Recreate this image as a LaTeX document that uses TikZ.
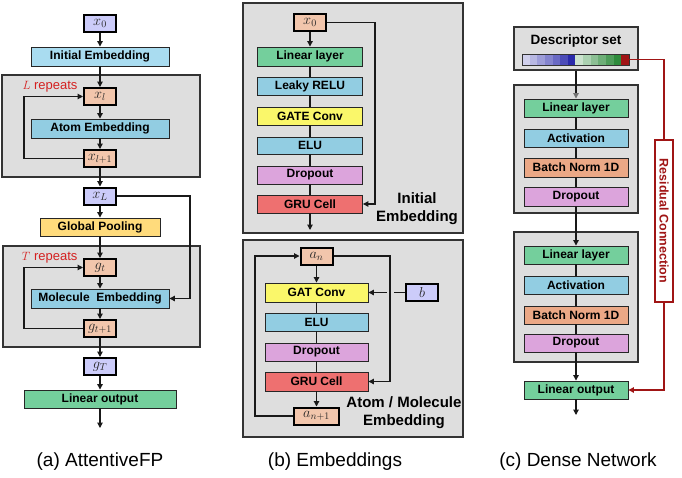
\documentclass[tikz,border=0pt]{standalone}
\usepackage{fontspec}
\setsansfont{Liberation Sans}
\usetikzlibrary{arrows.meta,calc}
\definecolor{panelgray}{HTML}{DEDEDE}
\definecolor{varblue}{HTML}{CCCCFA}
\definecolor{varsalmon}{HTML}{F2C6AC}
\definecolor{initblue}{HTML}{A9DCF0}
\definecolor{midblue}{HTML}{92CDE2}
\definecolor{lingreen}{HTML}{74CF9C}
\definecolor{poolyellow}{HTML}{FFDB7C}
\definecolor{convyellow}{HTML}{FAF76A}
\definecolor{droppink}{HTML}{DCA4DC}
\definecolor{grured}{HTML}{EE7070}
\definecolor{bnorange}{HTML}{EBA886}
\definecolor{repred}{HTML}{D42020}
\definecolor{resred}{HTML}{A01515}
\definecolor{descblue}{HTML}{2A2AAA}
\definecolor{descgreen}{HTML}{2E8B3C}
\tikzset{
  lbl/.style={font=\sffamily\bfseries\fontsize{12}{14}\selectfont,text=black},
  blk/.style={draw=black!85,line width=0.9pt,inner sep=0pt,lbl},
  var/.style={draw=black,line width=2pt,inner sep=0pt,minimum width=32pt,minimum height=17pt,font=\fontsize{14}{16}\selectfont,text=black!85},
  panel/.style={draw=black!80,fill=panelgray,line width=1.2pt,inner sep=0pt},
  arr/.style={-{Triangle[length=5.5pt,width=5.5pt]},line width=1.1pt,draw=black!90},
  con/.style={line width=1.1pt,draw=black!90},
  resarr/.style={-{Triangle[length=5.5pt,width=5.5pt]},line width=1.1pt,draw=resred},
  resbox/.style={draw=resred,fill=white,line width=1.1pt,rotate=-90,minimum width=162pt,minimum height=18pt,inner sep=0pt,font=\sffamily\bfseries\fontsize{12.5}{14}\selectfont,text=resred},
  rep/.style={font=\sffamily\fontsize{13}{15}\selectfont,text=repred,anchor=east},
  side/.style={font=\sffamily\bfseries\fontsize{15}{18}\selectfont,align=center,text=black},
  caplbl/.style={font=\sffamily\fontsize{19}{22}\selectfont,text=black}
}
\begin{document}
\begin{tikzpicture}[x=1pt,y=-1pt]
\path[use as bounding box] (0,0) rectangle (682,477);
\node[panel,minimum width=198pt,minimum height=102pt] (a_rep1) at (101,126) {};
\node[panel,minimum width=197pt,minimum height=101pt] (a_rep2) at (101.5,296.5) {};
\node[var,fill=varblue] (a_x0) at (100,23) {$x_0$};
\node[blk,fill=initblue,minimum width=138pt,minimum height=19pt] (a_init) at (100,56.5) {Initial Embedding};
\node[rep] (a_lrep) at (81,87) {$L$ repeats};
\node[var,fill=varsalmon] (a_xl) at (100,96.5) {$x_l$};
\node[blk,fill=midblue,minimum width=138pt,minimum height=19pt] (a_atom) at (100,128.5) {Atom Embedding};
\node[var,fill=varsalmon] (a_xl1) at (100,158.5) {$x_{l+1}$};
\node[var,fill=varblue] (a_xL) at (100,196) {$x_L$};
\node[blk,fill=poolyellow,minimum width=120pt,minimum height=18pt] (a_pool) at (100,227) {Global Pooling};
\node[rep] (a_trep) at (81,258) {$T$ repeats};
\node[var,fill=varsalmon] (a_gt) at (100,267.5) {$g_t$};
\node[blk,fill=midblue,minimum width=138pt,minimum height=19pt] (a_mol) at (100,298.5) {Molecule~~Embedding};
\node[var,fill=varsalmon] (a_gt1) at (100,328.5) {$g_{t+1}$};
\node[var,fill=varblue] (a_gT) at (100,366.5) {$g_T$};
\node[blk,fill=lingreen,minimum width=152pt,minimum height=18pt] (a_lin) at (100,399) {Linear output};
\coordinate (a_end) at (100,428);
\coordinate (a_loop) at (24,0);
\coordinate (a_side) at (190,0);
\draw[arr] (a_x0) -- (a_init);
\draw[arr] (a_init) -- (a_xl);
\draw[arr] (a_xl) -- (a_atom);
\draw[arr] (a_atom) -- (a_xl1);
\draw[arr] (a_xl1.west) -- (a_xl1.west -| a_loop) |- (a_xl.west);
\draw[arr] (a_xl1) -- (a_xL);
\draw[arr] (a_xL) -- (a_pool);
\draw[arr] (a_xL.east) -- (a_xL.east -| a_side) |- (a_mol.east);
\draw[arr] (a_pool) -- (a_gt);
\draw[arr] (a_gt) -- (a_mol);
\draw[arr] (a_mol) -- (a_gt1);
\draw[arr] (a_gt1.west) -- (a_gt1.west -| a_loop) |- (a_gt.west);
\draw[arr] (a_gt1) -- (a_gT);
\draw[arr] (a_gT) -- (a_lin);
\draw[arr] (a_lin) -- (a_end);
\node[panel,minimum width=220pt,minimum height=230pt] (b_init) at (353,118) {};
\node[panel,minimum width=220pt,minimum height=197pt] (b_emb) at (353,338.5) {};
\node[var,fill=varsalmon] (b_x0) at (310,22.5) {$x_0$};
\node[blk,fill=lingreen,minimum width=105pt,minimum height=19pt] (b_lin) at (310,56.5) {Linear layer};
\node[blk,fill=midblue,minimum width=105pt,minimum height=18pt] (b_relu) at (310,86) {Leaky RELU};
\node[blk,fill=convyellow,minimum width=105pt,minimum height=18pt] (b_gate) at (310,116) {GATE Conv};
\node[blk,fill=midblue,minimum width=105pt,minimum height=17pt] (b_elu) at (310,145.5) {ELU};
\node[blk,fill=droppink,minimum width=105pt,minimum height=18pt] (b_drop) at (310,175) {Dropout};
\node[blk,fill=grured,minimum width=105pt,minimum height=18pt] (b_gru) at (310,204) {GRU Cell};
\node[side] (b_initlbl) at (417,209) {Initial\\Embedding};
\coordinate (b_out) at (310,230);
\coordinate (b_skip) at (375,0);
\draw[arr] (b_x0) -- (b_lin);
\draw[con] (b_lin) -- (b_relu) (b_relu) -- (b_gate) (b_gate) -- (b_elu) (b_elu) -- (b_drop) (b_drop) -- (b_gru);
\draw[arr] (b_x0.east) -- (b_x0.east -| b_skip) |- (b_gru.east);
\draw[arr] (b_gru) -- (b_out);
\node[var,fill=varsalmon] (b_an) at (316.5,256) {$a_n$};
\node[blk,fill=convyellow,minimum width=103pt,minimum height=19pt] (b_gat) at (316.5,292.5) {GAT Conv};
\node[blk,fill=midblue,minimum width=103pt,minimum height=18pt] (b_elu2) at (316.5,322) {ELU};
\node[blk,fill=droppink,minimum width=103pt,minimum height=18pt] (b_drop2) at (316.5,352) {Dropout};
\node[blk,fill=grured,minimum width=103pt,minimum height=19pt] (b_gru2) at (316.5,381.5) {GRU Cell};
\node[var,fill=varsalmon,minimum width=45pt] (b_an1) at (316.5,416) {$a_{n+1}$};
\node[var,fill=varblue] (b_b) at (422,292.5) {$b$};
\node[side] (b_emblbl) at (404,413) {Atom / Molecule\\Embedding};
\coordinate (b_loopl) at (255,0);
\coordinate (b_loopr) at (390,0);
\draw[arr] (b_an) -- (b_gat);
\draw[con] (b_gat) -- (b_elu2) (b_elu2) -- (b_drop2) (b_drop2) -- (b_gru2);
\draw[arr] (b_gru2) -- (b_an1);
\draw[arr] (b_an1.west) -- (b_an1.west -| b_loopl) |- (b_an.west);
\draw[arr] (b_an.east) -- (b_an.east -| b_loopr) |- (b_gru2.east);
\draw[con] (b_b.west) -- ($(b_b.west -| b_loopr)+(3.5,0)$);
\draw[arr] ($(b_b.west -| b_loopr)+(-3.5,0)$) -- (b_gat.east);
\node[panel,minimum width=124pt,minimum height=43pt] (c_desc) at (576,48.5) {};
\node[lbl,font=\sffamily\bfseries\fontsize{13.5}{15}\selectfont] (c_desclbl) at (576,41) {Descriptor set};
\foreach \p [count=\i from 0] in {22,34,46,58,70,84,100}
  \fill[descblue!\p!white] (522+7.64*\i,54) rectangle ++(7.64,11);
\foreach \p [count=\i from 7] in {25,40,55,70,85,100}
  \fill[descgreen!\p!white] (522+7.64*\i,54) rectangle ++(7.64,11);
\node[fill=resred,minimum width=7.64pt,minimum height=11pt,inner sep=0pt] (c_rescell) at (625.2,59.5) {};
\node[draw=black!80,line width=0.9pt,minimum width=107pt,minimum height=11pt,inner sep=0pt] (c_bar) at (575.5,59.5) {};
\node[panel,minimum width=124pt,minimum height=128pt] (c_dense1) at (576,149) {};
\node[panel,minimum width=124pt,minimum height=130pt] (c_dense2) at (576,297) {};
\node[blk,fill=lingreen,minimum width=104pt,minimum height=18pt] (c_lin1) at (576,108) {Linear layer};
\node[blk,fill=midblue,minimum width=104pt,minimum height=18pt] (c_act1) at (576,138) {Activation};
\node[blk,fill=bnorange,minimum width=104pt,minimum height=19pt] (c_bn1) at (576,167.5) {Batch Norm 1D};
\node[blk,fill=droppink,minimum width=104pt,minimum height=19pt] (c_drop1) at (576,196.5) {Dropout};
\node[blk,fill=lingreen,minimum width=104pt,minimum height=18pt] (c_lin2) at (576,255) {Linear layer};
\node[blk,fill=midblue,minimum width=104pt,minimum height=18pt] (c_act2) at (576,285) {Activation};
\node[blk,fill=bnorange,minimum width=104pt,minimum height=18pt] (c_bn2) at (576,315) {Batch Norm 1D};
\node[blk,fill=droppink,minimum width=104pt,minimum height=18pt] (c_drop2) at (576,343) {Dropout};
\node[blk,fill=lingreen,minimum width=104pt,minimum height=18pt] (c_out) at (576,390) {Linear output};
\coordinate (c_end) at (576,415);
\coordinate (c_resx) at (664,0);
\draw[con,-{Triangle[length=5.5pt,width=5.5pt,color=black!55]}] (c_desc) -- (c_lin1);
\draw[con] (c_lin1) -- (c_act1) (c_act1) -- (c_bn1) (c_bn1) -- (c_drop1);
\draw[arr] (c_drop1) -- (c_lin2);
\draw[con] (c_lin2) -- (c_act2) (c_act2) -- (c_bn2) (c_bn2) -- (c_drop2);
\draw[arr] (c_drop2) -- (c_out);
\draw[arr] (c_out) -- (c_end);
\draw[resarr] (c_rescell.east) -- (c_rescell.east -| c_resx) |- (c_out.east);
\node[resbox] (c_reslbl) at (664,221) {Residual Connection};
\node[caplbl] (a_cap) at (100,462) {(a) AttentiveFP};
\node[caplbl] (b_cap) at (335,462) {(b) Embeddings};
\node[caplbl] (c_cap) at (578,462) {(c) Dense Network};
\end{tikzpicture}
\end{document}
